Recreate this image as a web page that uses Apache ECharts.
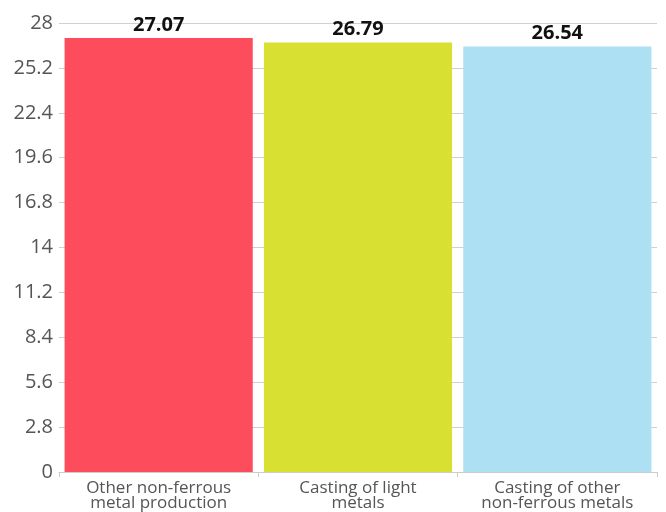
<!DOCTYPE html>
<html><head><meta charset="utf-8">
<script src="https://cdn.jsdelivr.net/npm/echarts@6/dist/echarts.min.js"></script>
<style>html,body{margin:0;padding:0;background:#fff}#c{width:666px;height:512px}</style>
</head><body><div id="c"></div>
<script>
const categories = ["Other non-ferrous\nmetal production", "Casting of light\nmetals", "Casting of other\nnon-ferrous metals"];
const values = [27.07, 26.79, 26.54];
const colors = ["#fd4c5c", "#d8e032", "#ade0f3"];
const chart = echarts.init(document.getElementById('c'), null, {renderer: 'canvas'});
chart.setOption({
  animation: false,
  grid: {left: 59, right: 9, top: 23, bottom: 40},
  xAxis: {
    type: 'category', data: categories,
    axisLine: {lineStyle: {color: '#cccccc'}},
    axisTick: {show: true, length: 5, lineStyle: {color: '#cccccc'}},
    axisLabel: {color: '#555', fontSize: 17, fontFamily: 'Open Sans', lineHeight: 15, margin: 9}
  },
  yAxis: {
    type: 'value', min: 0, max: 28, interval: 2.8,
    axisLine: {show: false}, axisTick: {show: false},
    splitLine: {lineStyle: {color: '#d0d0d0'}},
    axisLabel: {color: '#555', fontSize: 20, fontFamily: 'Open Sans', margin: 6}
  },
  series: [{
    type: 'bar', data: values.map((v, i) => ({value: v, itemStyle: {color: colors[i]}})),
    barCategoryGap: '5.6%',
    label: {show: true, position: 'top', color: '#111', fontWeight: 'bold', fontSize: 20, fontFamily: 'Open Sans', distance: 3,
      formatter: p => p.value.toFixed(2)}
  }]
});
</script></body></html>
